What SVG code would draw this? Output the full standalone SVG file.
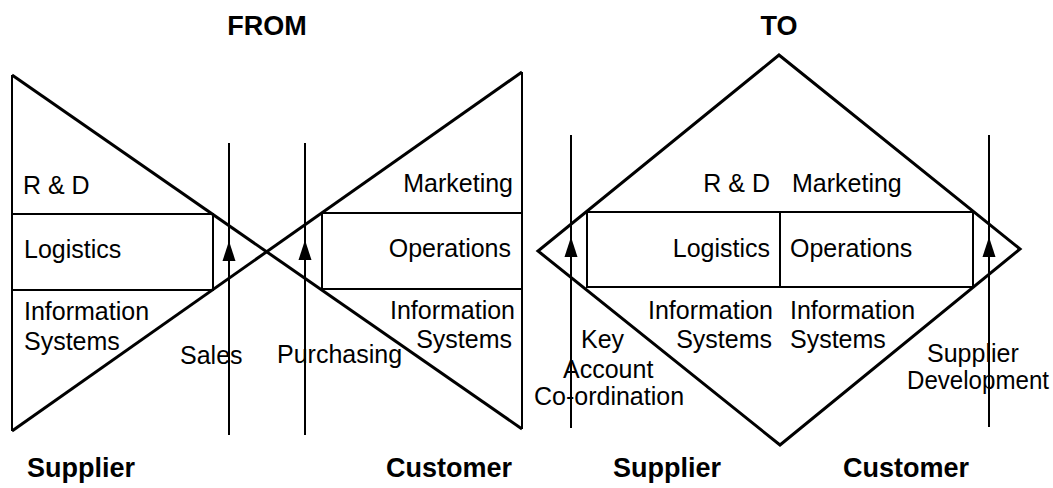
<svg xmlns="http://www.w3.org/2000/svg" xmlns:xlink="http://www.w3.org/1999/xlink" width="1053" height="488" viewBox="0 0 1053 488">
  <style>
    .bg { fill: #ffffff; }
    .edge { fill: none; stroke: #000; stroke-width: 3; stroke-linejoin: miter; }
    .side { fill: none; stroke: #000; stroke-width: 2; }
    .box { fill: none; stroke: #000; stroke-width: 2; }
    .link { fill: none; stroke: #000; stroke-width: 2; }
    .head { fill: #000; stroke: none; }
    text { font-family: "Liberation Sans", Arial, sans-serif; fill: #000; }
    .lbl { font-size: 25px; }
    .ttl { font-size: 27px; font-weight: bold; }
    .end { text-anchor: end; }
    .mid { text-anchor: middle; }
  </style>
  <defs>
    <path id="arrowhead" class="head" d="M0,0 L-6.5,20 L6.5,20 Z"/>
  </defs>

  <rect class="bg" x="0" y="0" width="1053" height="488"/>

  <!-- Left panel: the bow-tie arrangement -->
  <g id="from-title">
    <text class="ttl mid" x="267" y="35">FROM</text>
  </g>

  <g id="from-frame">
    <line class="edge" x1="12" y1="75" x2="522" y2="429"/>
    <line class="edge" x1="12" y1="431" x2="522" y2="72"/>
    <line class="side" x1="12" y1="75" x2="12" y2="431"/>
    <line class="side" x1="522" y1="72" x2="522" y2="429"/>
  </g>

  <g id="from-supplier">
    <polyline class="box" points="12,214 213,214 213,290 12,290"/>
    <text class="lbl" x="23" y="194">R &amp; D</text>
    <text class="lbl" x="24" y="258">Logistics</text>
    <text class="lbl" x="24" y="320">Information</text>
    <text class="lbl" x="24" y="350">Systems</text>
  </g>

  <g id="from-customer">
    <polyline class="box" points="522,213 322,213 322,289 522,289"/>
    <text class="lbl end" x="513" y="192">Marketing</text>
    <text class="lbl end" x="511" y="257">Operations</text>
    <text class="lbl end" x="515" y="319">Information</text>
    <text class="lbl end" x="512" y="348">Systems</text>
  </g>

  <g id="from-labels">
    <text class="ttl" x="27" y="477">Supplier</text>
    <text class="ttl" x="386" y="477">Customer</text>
  </g>

  <!-- Right panel: the diamond arrangement -->
  <g id="to-title">
    <text class="ttl mid" x="779" y="35">TO</text>
  </g>

  <g id="to-frame">
    <polygon class="edge" points="779,55 1020,249 780,445 538,251"/>
  </g>

  <g id="to-functions">
    <rect class="box" x="587" y="212" width="386" height="75"/>
    <line class="box" x1="780" y1="212" x2="780" y2="287"/>
    <text class="lbl end" x="770" y="192">R &amp; D</text>
    <text class="lbl" x="792" y="192">Marketing</text>
    <text class="lbl end" x="770" y="257">Logistics</text>
    <text class="lbl" x="790" y="257">Operations</text>
    <text class="lbl end" x="773" y="319">Information</text>
    <text class="lbl end" x="772" y="348">Systems</text>
    <text class="lbl" x="790" y="319">Information</text>
    <text class="lbl" x="790" y="348">Systems</text>
  </g>

  <g id="to-labels">
    <text class="ttl" x="613" y="477">Supplier</text>
    <text class="ttl" x="843" y="477">Customer</text>
  </g>

  <!-- Interface links with their upward arrowheads -->
  <g id="connectors">
    <g id="sales">
      <line class="link" x1="229" y1="143" x2="229" y2="435"/>
      <use xlink:href="#arrowhead" x="229" y="241"/>
      <text class="lbl" x="180" y="364">Sales</text>
    </g>
    <g id="purchasing">
      <line class="link" x1="305" y1="143" x2="305" y2="435"/>
      <use xlink:href="#arrowhead" x="305" y="240"/>
      <text class="lbl" x="277" y="363">Purchasing</text>
    </g>
    <g id="key-account">
      <line class="link" x1="571" y1="135" x2="571" y2="428"/>
      <use xlink:href="#arrowhead" x="571" y="237"/>
      <text class="lbl" x="581" y="348">Key</text>
      <text class="lbl" x="563" y="378">Account</text>
      <text class="lbl" x="534" y="405">Co-ordination</text>
    </g>
    <g id="supplier-development">
      <line class="link" x1="989" y1="135" x2="989" y2="427"/>
      <use xlink:href="#arrowhead" x="989" y="237"/>
      <text class="lbl" x="927" y="362">Supplier</text>
      <text class="lbl" x="907" y="389" textLength="142" lengthAdjust="spacingAndGlyphs">Development</text>
    </g>
  </g>
</svg>
